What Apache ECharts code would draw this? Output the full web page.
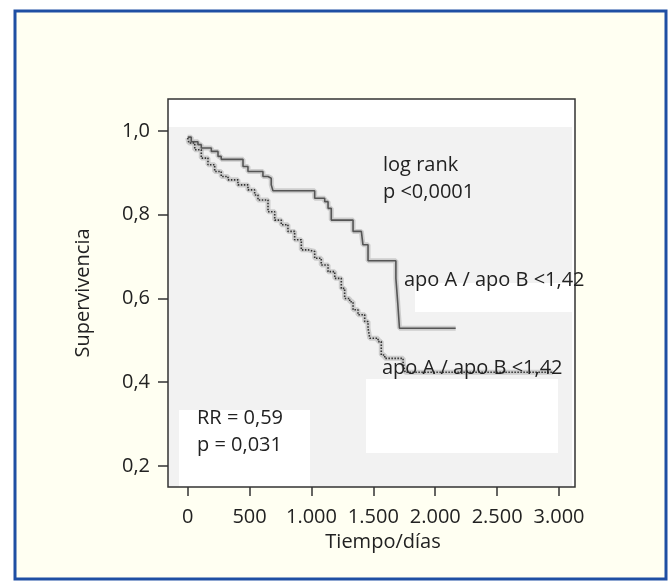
<!DOCTYPE html>
<html>
<head>
<meta charset="utf-8">
<script src="https://cdn.jsdelivr.net/npm/echarts@6/dist/echarts.min.js"></script>
<style>
html,body{margin:0;padding:0;background:#fff;}
#c{width:670px;height:588px;}
</style>
</head>
<body>
<div id="c"></div>
<script>
// ---- data ----
const xTicks = [0, 500, 1000, 1500, 2000, 2500, 3000];
const yTicks = [0.2, 0.4, 0.6, 0.8, 1.0];

// upper curve (solid): time of drop -> survival after drop
const upperTimes = [0, 29, 83, 110, 191, 245, 271, 447, 487, 608, 649, 675, 689, 1026, 1107, 1134, 1160, 1336, 1403, 1416, 1457, 1682, 1697, 1711, 2165];
const upperSurv  = [0.985, 0.974, 0.967, 0.959, 0.951, 0.939, 0.932, 0.915, 0.903, 0.891, 0.887, 0.871, 0.857, 0.839, 0.831, 0.815, 0.787, 0.760, 0.756, 0.728, 0.690, 0.648, 0.589, 0.529, 0.529];

// lower curve (dotted)
const lowerTimes = [0, 10, 57, 110, 164, 218, 271, 326, 406, 487, 541, 568, 649, 703, 756, 810, 864, 918, 972, 1026, 1079, 1134, 1188, 1241, 1268, 1309, 1336, 1376, 1430, 1457, 1471, 1538, 1564, 1592, 1740, 1756, 2950];
const lowerSurv  = [0.983, 0.971, 0.955, 0.935, 0.919, 0.903, 0.891, 0.883, 0.871, 0.859, 0.847, 0.835, 0.807, 0.787, 0.776, 0.760, 0.740, 0.716, 0.712, 0.696, 0.680, 0.664, 0.648, 0.624, 0.600, 0.592, 0.573, 0.561, 0.545, 0.529, 0.505, 0.497, 0.465, 0.457, 0.448, 0.424, 0.424];

const xName = 'Tiempo/días';
const yName = 'Supervivencia';

// ---- build ----
const zip = (a, b) => a.map((v, i) => [v, b[i]]);
const upperData = zip(upperTimes, upperSurv);
const lowerData = zip(lowerTimes, lowerSurv);

const FONT = '"Open Sans", "Noto Sans", sans-serif';
const TXT = '#222';
const G = {left: 168, top: 99, width: 407, height: 388};

const fmtX = v => {
  const s = String(Math.round(v));
  return s.replace(/\B(?=(\d{3})+(?!\d))/g, '.');
};
const fmtY = v => v.toFixed(1).replace('.', ',');

const txt = (text, x, y, extra) => Object.assign({
  type: 'text', x: x, y: y, z: 10,
  style: {text: text, fill: TXT, font: '20px ' + FONT, textAlign: 'left', textVerticalAlign: 'middle'}
}, extra || {});

const chart = echarts.init(document.getElementById('c'), null, {renderer: 'canvas'});
chart.setOption({
  animation: false,
  grid: Object.assign({show: false}, G),
  xAxis: {
    type: 'value', min: -159, max: 3129,
    axisLine: {show: false, onZero: false},
    splitLine: {show: false},
    axisTick: {show: true, length: 9, customValues: xTicks, lineStyle: {color: '#333', width: 1.5}},
    axisLabel: {customValues: xTicks, formatter: fmtX, color: TXT, fontSize: 20, fontFamily: FONT, margin: 20}
  },
  yAxis: {
    type: 'value', min: 0.15, max: 1.076,
    axisLine: {show: false, onZero: false},
    splitLine: {show: false},
    axisTick: {show: true, length: 10, customValues: yTicks, lineStyle: {color: '#333', width: 1.5}},
    axisLabel: {customValues: yTicks, formatter: fmtY, color: TXT, fontSize: 20, fontFamily: FONT, margin: 18}
  },
  graphic: [
    {type: 'rect', z: 0, shape: {x: 15, y: 11, width: 651, height: 568},
      style: {fill: '#fffff2', stroke: '#1f4fa3', lineWidth: 3}},
    {type: 'rect', z: 0, shape: {x: G.left, y: G.top, width: G.width, height: G.height}, style: {fill: '#ffffff'}},
    {type: 'rect', z: 0, shape: {x: G.left, y: 127, width: 404, height: 360}, style: {fill: '#f2f2f2'}},
    {type: 'rect', z: 0, shape: {x: 415, y: 283, width: 157, height: 29}, style: {fill: '#ffffff'}},
    {type: 'rect', z: 0, shape: {x: 366, y: 379, width: 192, height: 74}, style: {fill: '#ffffff'}},
    {type: 'rect', z: 0, shape: {x: 179, y: 410, width: 131, height: 77}, style: {fill: '#ffffff'}},
    {type: 'rect', z: 1, shape: {x: G.left, y: G.top, width: G.width, height: G.height},
      style: {fill: 'none', stroke: '#333', lineWidth: 1.5}},
    txt('log rank', 383, 165),
    txt('p <0,0001', 383, 192),
    txt('apo A / apo B <1,42', 404, 280),
    txt('apo A / apo B <1,42', 382, 368),
    txt('RR = 0,59', 197, 418),
    txt('p = 0,031', 197, 445),
    {type: 'text', x: 383, y: 542, z: 10,
      style: {text: xName, fill: TXT, font: '20px ' + FONT, textAlign: 'center', textVerticalAlign: 'middle'}},
    {type: 'text', x: 83, y: 293, z: 10, rotation: Math.PI / 2,
      style: {text: yName, fill: TXT, font: '20px ' + FONT, textAlign: 'center', textVerticalAlign: 'middle'}}
  ],
  series: [
    {type: 'line', data: upperData, step: 'end', showSymbol: false, silent: true, z: 2,
      lineStyle: {color: 'rgba(160,160,160,0.45)', width: 5}},
    {type: 'line', data: lowerData, step: 'end', showSymbol: false, silent: true, z: 2,
      lineStyle: {color: 'rgba(160,160,160,0.45)', width: 5}},
    {type: 'line', data: upperData, step: 'end', showSymbol: false, silent: true, z: 3,
      lineStyle: {color: '#555', width: 1.6}},
    {type: 'line', data: lowerData, step: 'end', showSymbol: false, silent: true, z: 3,
      lineStyle: {color: '#333', width: 1.6, type: [1.5, 1.5]}}
  ]
});
</script>
</body>
</html>
